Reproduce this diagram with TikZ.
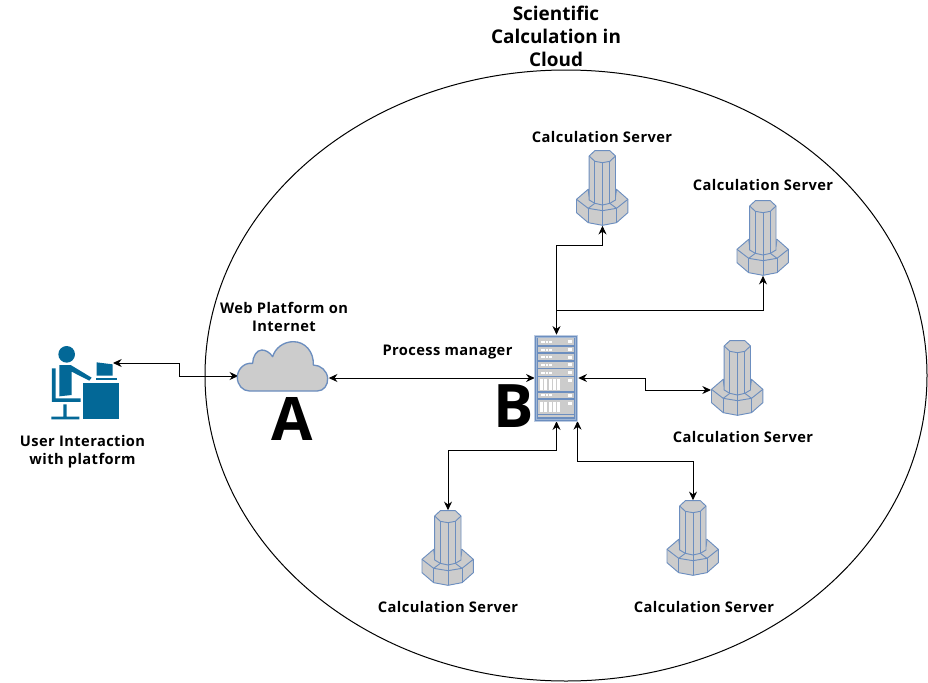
\documentclass[tikz,border=0pt]{standalone}
\usepackage{fontspec}
\setmainfont{Open Sans}
\usetikzlibrary{arrows.meta,shapes.geometric}
\definecolor{edgeblue}{HTML}{6C8EBF}
\definecolor{fillgray}{HTML}{CCCCCC}
\definecolor{persona}{HTML}{036897}
\tikzset{
  x=0.75pt,y=-0.75pt,
  lbl/.style={font=\bfseries\fontsize{11pt}{13.6pt}\selectfont\addfontfeatures{LetterSpace=2.8},align=center,inner sep=0pt},
  bigletter/.style={font=\bfseries\fontsize{45pt}{50pt}\selectfont,inner sep=0pt,text=black},
  conn/.style={draw=black,line width=0.75pt,{Stealth[length=6.5pt,width=6pt]}-{Stealth[length=6.5pt,width=6pt]}},
  ln/.style={draw=edgeblue,line width=0.7pt,line join=round},
  tower/.pic={
    \begin{scope}[scale=0.3333,shift={(-128,-144)}]
      \path[ln,fill=fillgray] (50,178)--(85,148)--(170,148)--(204,178)--(204,218)--(170,248)--(128,256)--(85,248)--(50,218)--cycle;
      \path[ln] (50,178)--(85,205)--(128,212)--(170,205)--(204,178);
      \path[ln] (85,205)--(85,248) (128,212)--(128,256) (170,205)--(170,248);
      \path[ln] (85,205)--(105,190) (170,205)--(150,190) (85,148)--(88,170) (170,148)--(167,170);
      \path[ln,fill=fillgray] (88,48)--(105,32)--(150,32)--(167,48)--(167,180)--(150,190)--(128,195)--(105,190)--(88,180)--cycle;
      \path[ln] (88,48)--(105,64)--(128,68)--(150,64)--(167,48);
      \path[ln] (105,64)--(105,190) (128,68)--(128,212) (150,64)--(150,190);
    \end{scope}
  }
}
\begin{document}
\begin{tikzpicture}
\useasboundingbox (0,0) rectangle (928,682);
\fill[white] (0,0) rectangle (928,682);
% boundary
\node[draw=black,line width=0.75pt,ellipse,inner sep=0pt,minimum width=0.75*722pt,minimum height=0.75*611pt] (cloudzone) at (566,375.5) {};
% title
\node[font=\bfseries\fontsize{14.2pt}{17.25pt}\selectfont,align=center,inner sep=0pt] (title) at (556,36) {Scientific\\Calculation in\\Cloud};

% anchors for the drawn shapes
\node[inner sep=0pt,minimum width=0.75*43pt,minimum height=0.75*86pt] (srv) at (556.5,378) {};
\node[inner sep=0pt,minimum width=0.75*90pt,minimum height=0.75*52pt] (cloud) at (283.5,366) {};
\node[inner sep=0pt,minimum width=0.75*70pt,minimum height=0.75*74pt] (user) at (85,383) {};
\node[inner sep=0pt,minimum width=0.75*52pt,minimum height=0.75*75pt] (t1) at (602.5,188) {};
\node[inner sep=0pt,minimum width=0.75*52pt,minimum height=0.75*75pt] (t2) at (763,238) {};
\node[inner sep=0pt,minimum width=0.75*52pt,minimum height=0.75*75pt] (t3) at (737.5,378) {};
\node[inner sep=0pt,minimum width=0.75*52pt,minimum height=0.75*75pt] (t4) at (448,548) {};
\node[inner sep=0pt,minimum width=0.75*52pt,minimum height=0.75*75pt] (t5) at (693,538) {};
\coordinate (userport) at (113,363);
\coordinate (t3port) at (711,390);
\coordinate (srvbr) at (577.5,421);

% connectors
\draw[conn] (userport) -- (179.5,363) -- (179.5,376) -- (cloud.west |- 0,376);
\draw[conn] (cloud.east |- srv.west) -- (srv.west);
\draw[conn] (srv.north) -- (srv.north |- 0,245) -| (t1.south);
\draw[draw=black,line width=0.75pt,-{Stealth[length=6.5pt,width=6pt]}] (srv.north |- 0,310) -| (t2.south);
\draw[conn] (srv.east) -- (645,378) -- (645,390) -- (t3port);
\draw[conn] (srv.south) -- (srv.south |- 0,450) -| (t4.north);
\draw[conn] (srvbr) -- (srvbr |- 0,461) -| (t5.north);

% towers
\pic at (t1) {tower};
\pic at (t2) {tower};
\pic at (t3) {tower};
\pic at (t4) {tower};
\pic at (t5) {tower};

% cloud
\begin{scope}[shift={(230,335)},scale=0.3333]
\path[ln,line width=1pt,fill=fillgray] (58,168) -- (262,168)
 .. controls (282,168) and (294,150) .. (293,130)
 .. controls (292,108) and (272,90) .. (250,90)
 .. controls (252,50) and (225,20) .. (190,20)
 .. controls (160,20) and (135,40) .. (128,65)
 .. controls (118,50) and (105,45) .. (95,45)
 .. controls (80,45) and (68,65) .. (68,85)
 .. controls (40,82) and (22,105) .. (22,127)
 .. controls (22,150) and (38,168) .. (58,168) -- cycle;
\end{scope}

% rack
\begin{scope}[shift={(520,325)},scale=0.3333]
\fill[fill=edgeblue] (44,30) rectangle (172,288);
\draw[draw=white!55!edgeblue,line width=0.6pt] (44,30) rectangle (172,288);
\draw[draw=white!35!edgeblue,line width=0.4pt] (50,36) rectangle (166,282);
\foreach \ya/\yb in {40/60,65/82,88/106,110/128,133/152,203/220}{
  \fill[fillgray] (54,\ya) rectangle (162,\yb);
  \fill[white] (62,{(\ya+\yb)/2-3}) rectangle (74,{(\ya+\yb)/2+3});
  \fill[white] (77,{(\ya+\yb)/2-3}) rectangle (85,{(\ya+\yb)/2+3});
  \fill[white] (88,{(\ya+\yb)/2-3}) rectangle (96,{(\ya+\yb)/2+3});
  \fill[white] (145,{(\ya+\yb)/2-5}) rectangle (155,{(\ya+\yb)/2+5});
}
\foreach \ya/\yb in {157/198,226/266}{
  \fill[fillgray] (54,\ya) rectangle (162,\yb);
  \foreach \xx in {60,73,86,99,112}{
    \fill[white] (\xx,\ya+5) rectangle (\xx+9,\yb-4);
  }
  \fill[white] (145,\ya+5) rectangle (155,\ya+15);
}
\fill[fillgray] (54,270) rectangle (162,276);
\end{scope}

% person
\begin{scope}[shift={(40,335)},scale=0.3333]
\fill[persona] (80,58) circle (25);
\fill[persona] (58,90) -- (92,90) -- (155,128) -- (148,137) -- (95,110) -- (95,180) -- (58,184) -- cycle;
\fill[persona] (36,100) -- (47,100) -- (47,190) -- (122,190) -- (122,201) -- (36,201) -- cycle;
\fill[persona] (70,208) -- (80,208) -- (80,245) -- (118,245) -- (118,253) -- (34,253) -- (34,245) -- (70,245) -- cycle;
\fill[persona] (128,145) rectangle (238,253);
\fill[persona] (170,82) -- (218,88) -- (218,122) -- (170,122) -- cycle;
\fill[persona] (168,130) rectangle (230,136);
\end{scope}

% labels
\node[lbl] (lt1) at (602,137) {Calculation Server};
\node[lbl] (lt2) at (763,185) {Calculation Server};
\node[lbl] (lt3) at (743,437) {Calculation Server};
\node[lbl] (lt4) at (448,607) {Calculation Server};
\node[lbl] (lt5) at (704,607) {Calculation Server};
\node[lbl] (lweb) at (284,317) {Web Platform on\\Internet};
\node[lbl] (lpm) at (447.5,352) {Process manager};
\node[lbl] (luser) at (82.5,452) {User Interaction\\with platform};
\node[bigletter] (la) at (292,418.5) {A};
\node[bigletter] (lb) at (514,406) {B};
\end{tikzpicture}
\end{document}
